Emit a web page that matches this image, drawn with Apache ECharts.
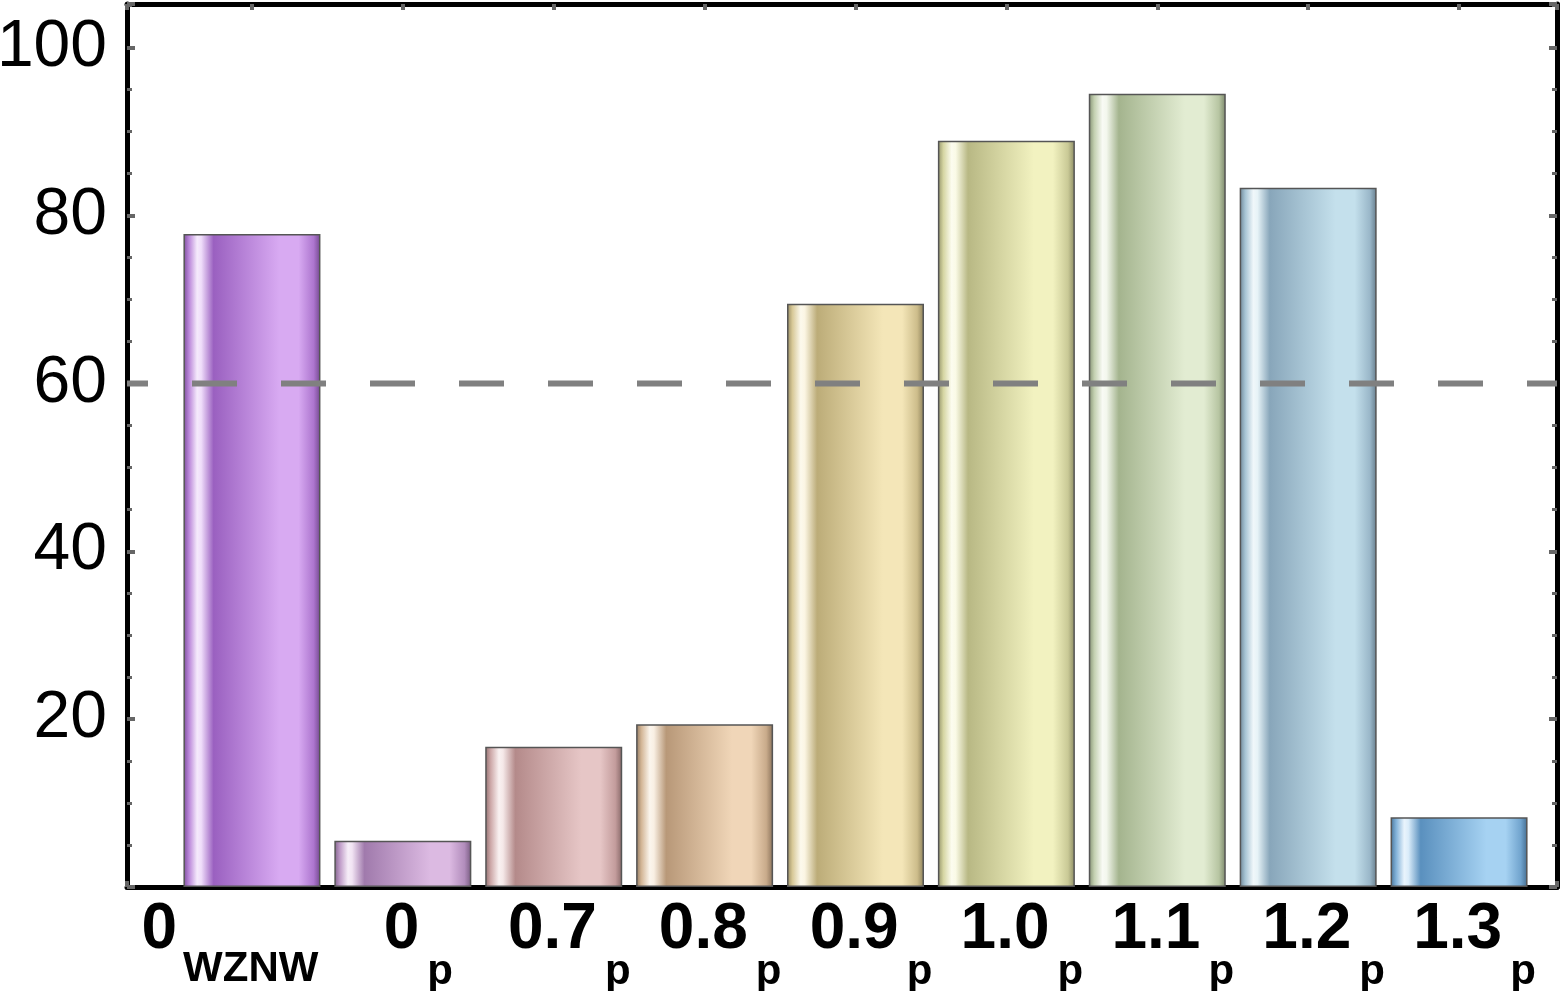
<!DOCTYPE html>
<html>
<head>
<meta charset="utf-8">
<script src="https://cdn.jsdelivr.net/npm/echarts@6/dist/echarts.min.js"></script>
<style>
	html, body { margin: 0; padding: 0; background: #fff; }
	#chart { width: 1561px; height: 991px; }
</style>
</head>
<body>
<div id="chart"></div>
<script>
	// data
	var labelMain = ['0', '0', '0.7', '0.8', '0.9', '1.0', '1.1', '1.2', '1.3'];
	var labelSub = ['WZNW', 'p', 'p', 'p', 'p', 'p', 'p', 'p', 'p'];
	var values = [77.8, 5.5, 16.7, 19.4, 69.5, 88.9, 94.5, 83.3, 8.3];
	var threshold = 60;
	var yMin = 0, yMax = 105.2, yStep = 20;

	// bar shades (dark part, light part)
	var darkColors = ['#9a60c0', '#a07aac', '#b48a8a', '#b89878', '#bcac78', '#b8b884', '#a4b48e', '#88a6ba', '#5a90be'];
	var lightColors = ['#d8aaf2', '#dcbae2', '#e6c6c6', '#f0d6b8', '#f4e6b8', '#f2f2c0', '#e2ecd2', '#c4e0ec', '#a6d2f2'];

	function mix(a, b, t) {
		var pa = parseInt(a.slice(1), 16), pb = parseInt(b.slice(1), 16);
		var r = Math.round(((pa >> 16) & 255) * (1 - t) + ((pb >> 16) & 255) * t);
		var g = Math.round(((pa >> 8) & 255) * (1 - t) + ((pb >> 8) & 255) * t);
		var bl = Math.round((pa & 255) * (1 - t) + (pb & 255) * t);
		return 'rgb(' + r + ',' + g + ',' + bl + ')';
	}

	function glossy(d, l) {
		return new echarts.graphic.LinearGradient(0, 0, 1, 0, [
			{offset: 0, color: mix(d, '#000000', 0.2)},
			{offset: 0.04, color: mix(d, l, 0.5)},
			{offset: 0.1, color: mix(l, '#ffffff', 0.75)},
			{offset: 0.13, color: mix(l, '#ffffff', 0.6)},
			{offset: 0.22, color: d},
			{offset: 0.7, color: l},
			{offset: 0.84, color: l},
			{offset: 0.95, color: mix(d, l, 0.3)},
			{offset: 1, color: mix(d, '#000000', 0.25)}
		]);
	}

	var cats = labelMain.map(function (m, i) { return String(i); });
	var barData = values.map(function (v, i) {
		return {value: v, itemStyle: {color: glossy(darkColors[i], lightColors[i])}};
	});

	var tickStyle = {color: '#666', width: 4};
	var frameLine = {show: true, onZero: false, lineStyle: {color: '#000', width: 5}};
	var font = 'Liberation Sans, Arial, sans-serif';

	var myChart = echarts.init(document.getElementById('chart'));
	var option = {
		animation: false,
		backgroundColor: '#fff',
		grid: [
			{left: 176.5, right: 26.5, top: 4, bottom: 104, containLabel: false, outerBoundsMode: 'none'},
			{left: 127, right: 4, top: 4, bottom: 104, containLabel: false, outerBoundsMode: 'none'}
		],
		xAxis: [
			{
				type: 'category', gridIndex: 0, data: cats, position: 'bottom',
				axisLine: {show: false, onZero: false},
				axisTick: {show: true, inside: true, alignWithLabel: true, length: 6, lineStyle: tickStyle},
				axisLabel: {
					interval: 0, margin: 11, color: '#000', fontFamily: font,
					formatter: function (v) {
						var i = +v;
						if (labelSub[i] === 'WZNW') return '{m|' + labelMain[i] + '}{w|' + labelSub[i] + '}';
						return '{mp|' + labelMain[i] + '}{p|' + labelSub[i] + '}';
					},
					rich: {
						m: {fontSize: 64, fontWeight: 'bold', fontFamily: font, lineHeight: 64, verticalAlign: 'top', color: '#000'},
						mp: {fontSize: 64, fontWeight: 'bold', fontFamily: font, lineHeight: 64, verticalAlign: 'top', color: '#000', padding: [0, 0, 0, 31]},
						w: {fontSize: 42, fontWeight: 'bold', fontFamily: font, lineHeight: 42, verticalAlign: 'top', color: '#000', padding: [50, 44, 0, 6]},
						p: {fontSize: 42, fontWeight: 'bold', fontFamily: font, lineHeight: 42, verticalAlign: 'top', color: '#000', padding: [53, 0, 0, 8]}
					}
				},
				splitLine: {show: false}
			},
			{
				type: 'category', gridIndex: 0, data: cats, position: 'top',
				axisLine: {show: false, onZero: false},
				axisTick: {show: true, inside: true, alignWithLabel: true, length: 6, lineStyle: tickStyle},
				axisLabel: {show: false},
				splitLine: {show: false}
			},
			{
				type: 'value', gridIndex: 1, min: 0, max: 1, interval: 1, position: 'bottom',
				axisLine: frameLine,
				axisTick: {show: true, inside: true, length: 6, lineStyle: tickStyle},
				axisLabel: {show: false},
				splitLine: {show: false}
			},
			{
				type: 'value', gridIndex: 1, min: 0, max: 1, interval: 1, position: 'top',
				axisLine: frameLine,
				axisTick: {show: true, inside: true, length: 6, lineStyle: tickStyle},
				axisLabel: {show: false},
				splitLine: {show: false}
			}
		],
		yAxis: [
			{
				type: 'value', gridIndex: 0, min: yMin, max: yMax, interval: yStep,
				show: false
			},
			{
				type: 'value', gridIndex: 1, min: yMin, max: yMax, interval: yStep, position: 'left',
				axisLine: frameLine,
				axisTick: {show: true, inside: true, length: 8, lineStyle: tickStyle},
				minorTick: {show: true, splitNumber: 4, length: 5, lineStyle: {color: '#666', width: 3}},
				axisLabel: {
					margin: 20, color: '#000', fontSize: 66, fontFamily: font,
					formatter: function (v) { return v === 0 ? '' : v; }
				},
				splitLine: {show: false}
			},
			{
				type: 'value', gridIndex: 1, min: yMin, max: yMax, interval: yStep, position: 'right',
				axisLine: frameLine,
				axisTick: {show: true, inside: true, length: 8, lineStyle: tickStyle},
				minorTick: {show: true, splitNumber: 4, length: 5, lineStyle: {color: '#666', width: 3}},
				axisLabel: {show: false},
				splitLine: {show: false}
			}
		],
		series: [
			{
				type: 'bar', xAxisIndex: 0, yAxisIndex: 0,
				barWidth: 137,
				data: barData,
				itemStyle: {borderColor: '#555', borderWidth: 1.5},
				z: 2
			},
			{
				type: 'line', xAxisIndex: 2, yAxisIndex: 1,
				data: [[0, threshold], [1, threshold]],
				symbol: 'none',
				lineStyle: {color: '#808080', width: 6, type: [45, 44], dashOffset: 24},
				z: 5
			}
		]
	};
	myChart.setOption(option);
</script>
</body>
</html>
